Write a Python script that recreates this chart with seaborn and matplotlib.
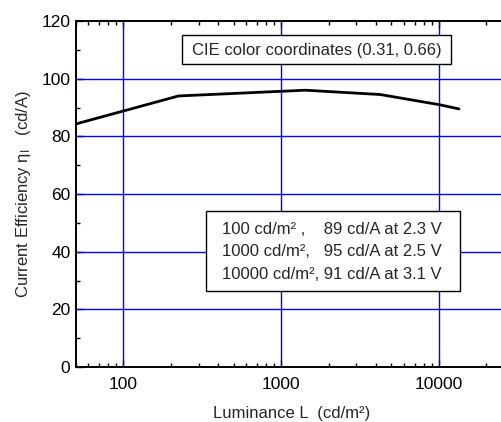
import matplotlib
matplotlib.use("Agg")
import matplotlib.pyplot as plt
import seaborn as sns
import pandas as pd
from matplotlib.patches import Rectangle
from matplotlib.ticker import LogLocator, NullFormatter, MultipleLocator, FixedLocator, FixedFormatter

luminance = [50, 223, 1420, 4240, 10000, 13400]
efficiency = [84.3, 94.0, 96.0, 94.5, 91.0, 89.5]
x_ticks = [100, 1000, 10000]
x_tick_labels = ["100", "1000", "10000"]
y_ticks = [0, 20, 40, 60, 80, 100, 120]
cie_text = "CIE color coordinates (0.31, 0.66)"
info_lines = ["100 cd/m\u00b2 ,    89 cd/A at 2.3 V",
              "1000 cd/m\u00b2,   95 cd/A at 2.5 V",
              "10000 cd/m\u00b2, 91 cd/A at 3.1 V"]

sns.set_theme(style="white")
plt.rcParams['font.family'] = ['Liberation Sans', 'DejaVu Sans']
plt.rcParams['mathtext.fontset'] = 'custom'
plt.rcParams['mathtext.rm'] = 'Liberation Sans'
plt.rcParams['mathtext.it'] = 'Liberation Sans:italic'

df = pd.DataFrame({"L": luminance, "eff": efficiency})

fig = plt.figure(figsize=(5.02, 4.22), dpi=100)
ax = fig.add_axes([76/502, 1-367/422, 1.0 - 76/502 + 0.01, (367-21)/422])

ax.set_xscale("log")
ax.set_xlim(50, 27000)
ax.set_ylim(0, 120)

ax.grid(False)
for v in x_ticks:
    ax.axvline(v, color="#0000ff", lw=1.0, zorder=1)
for v in y_ticks[1:-1]:
    ax.axhline(v, color="#0000ff", lw=1.0, zorder=1)

sns.lineplot(data=df, x="L", y="eff", ax=ax, color="black", lw=2.0, zorder=3)

ax.xaxis.set_major_locator(FixedLocator(x_ticks))
ax.xaxis.set_major_formatter(FixedFormatter(x_tick_labels))
ax.xaxis.set_minor_locator(LogLocator(base=10, subs=[2, 3, 4, 5, 6, 7, 8, 9], numticks=30))
ax.xaxis.set_minor_formatter(NullFormatter())
ax.yaxis.set_major_locator(FixedLocator(y_ticks))
ax.yaxis.set_minor_locator(MultipleLocator(10))

ax.tick_params(which="both", direction="in", top=True, right=False, bottom=True, left=True,
               colors="black", labelsize=12.5, width=1.0)
ax.tick_params(which="major", length=5)
ax.tick_params(which="minor", length=3)
ax.tick_params(axis="x", which="major", pad=7)
ax.tick_params(axis="y", which="major", pad=4)

for s in ["left", "bottom", "top"]:
    ax.spines[s].set_color("black")
    ax.spines[s].set_linewidth(1.4)
ax.spines["right"].set_visible(False)

ax.set_xlabel("Luminance L  (cd/m\u00b2)", fontsize=12, labelpad=10)
ax.set_ylabel("Current Efficiency \u03b7$_\\mathrm{I}$   (cd/A)", fontsize=12, labelpad=6)

# Convert pixel positions in the figure to axes fractions
def ax_x(px):
    return (px - 76) / (fig.get_figwidth() * 100 * ax.get_position().width)

def ax_y(py):
    return (367 - py) / 346

ax.add_patch(Rectangle((ax_x(182), ax_y(64)), ax_x(451) - ax_x(182), ax_y(35) - ax_y(64),
                       transform=ax.transAxes, facecolor="white", edgecolor="black", lw=1.0, zorder=4))
ax.text(ax_x(316.5), ax_y(50), cie_text, transform=ax.transAxes, fontsize=12,
        ha="center", va="center", zorder=5)

ax.add_patch(Rectangle((ax_x(206), ax_y(291)), ax_x(460) - ax_x(206), ax_y(211) - ax_y(291),
                       transform=ax.transAxes, facecolor="white", edgecolor="black", lw=1.0, zorder=4))
ax.text(ax_x(222), ax_y(252), "\n".join(info_lines), transform=ax.transAxes, fontsize=12,
        ha="left", va="center", linespacing=1.6, zorder=5)

fig.savefig("out.png", dpi=100)
